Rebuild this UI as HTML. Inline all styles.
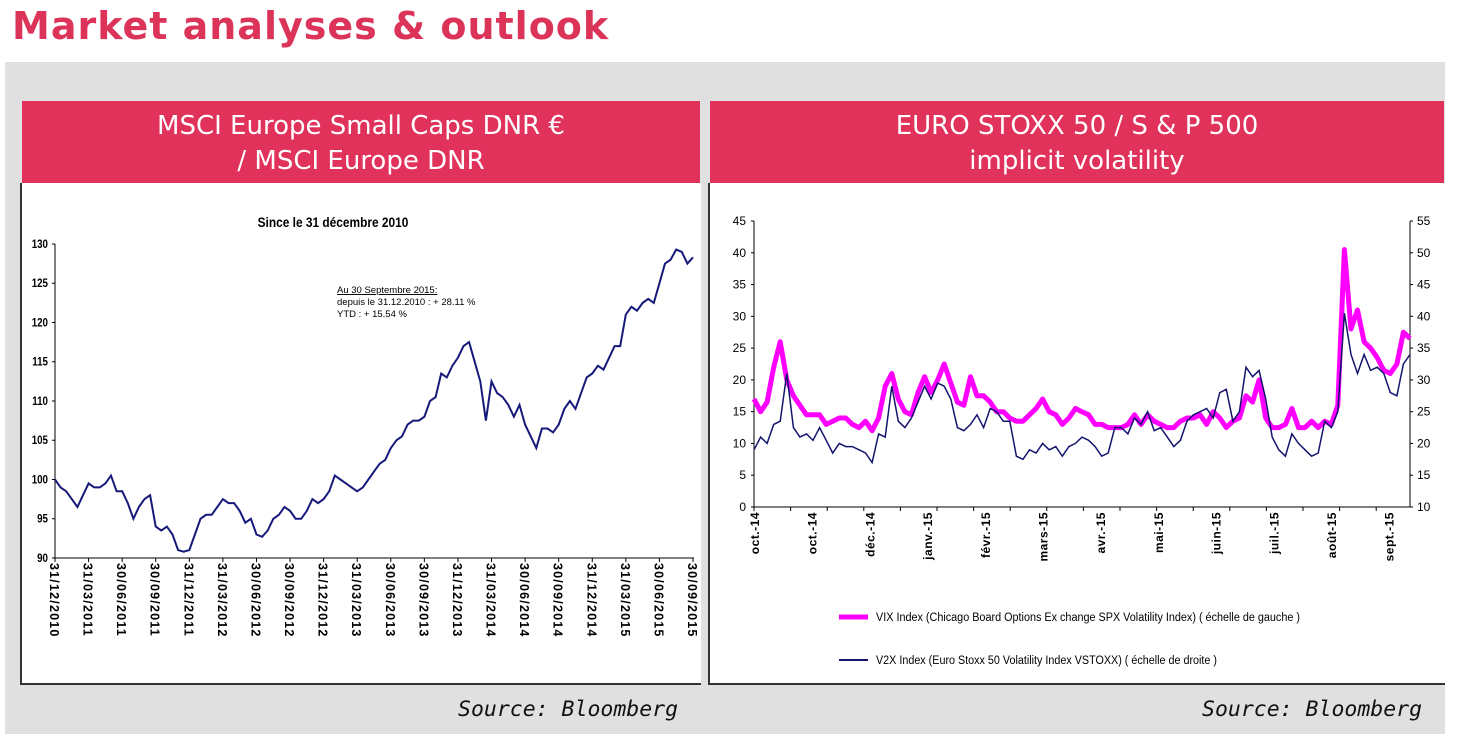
<!DOCTYPE html>
<html><head><meta charset="utf-8">
<style>
body{margin:0;width:1457px;height:746px;background:#fff;overflow:hidden;font-family:"Liberation Sans",sans-serif;position:relative}
.abs{position:absolute}
#title{left:12px;top:4px;font-size:38px;font-weight:bold;color:#dc3358;letter-spacing:1px;font-family:"DejaVu Sans","Liberation Sans",sans-serif}
#panel{left:5px;top:62px;width:1440px;height:672px;background:#e0e0e0}
.hdr{top:101px;height:82px;background:#e0325a;color:#fff;font-family:"DejaVu Sans","Liberation Sans",sans-serif;font-size:26px;text-align:center;line-height:35px;box-sizing:border-box;padding-top:8px}
.box{top:183px;height:502px;background:#fff;border-left:2px solid #333;border-bottom:2px solid #333;box-sizing:border-box}
.src{top:697px;font-family:"DejaVu Sans Mono","Liberation Mono",monospace;font-style:italic;font-size:21.5px;color:#111}
</style></head><body>
<div id="title" class="abs">Market analyses &amp; outlook</div>
<div id="panel" class="abs"></div>
<div class="abs hdr" style="left:22px;width:678px">MSCI Europe Small Caps DNR €<br>/ MSCI Europe DNR</div>
<div class="abs hdr" style="left:710px;width:734px">EURO STOXX 50 / S &amp; P 500<br>implicit volatility</div>
<div class="abs box" style="left:20px;width:681px"></div>
<div class="abs box" style="left:708px;width:737px"></div>
<div class="abs src" style="left:458px">Source: Bloomberg</div>
<div class="abs src" style="left:1202px">Source: Bloomberg</div>
<svg class="abs" style="left:0;top:0" width="1457" height="746" id="svg"></svg>
<script>
// ---- Left chart data ----
const msciMonths = Array.from({length:115},(_, i)=>i*0.5);
const msciValues = [100,99,98.5,97.5,96.5,98,99.5,99,99,99.5,100.5,98.5,98.5,97,95,96.5,97.5,98,94,93.5,94,93,91,90.8,91,93,95,95.5,95.5,96.5,97.5,97,97,96,94.5,95,93,92.7,93.5,95,95.5,96.5,96,95,95,96,97.5,97,97.5,98.5,100.5,100,99.5,99,98.5,99,100,101,102,102.5,104,105,105.5,107,107.5,107.5,108,110,110.5,113.5,113,114.5,115.5,117,117.5,115,112.5,107.5,112.5,111,110.5,109.5,108,109.5,107,105.5,104,106.5,106.5,106,107,109,110,109,111,113,113.5,114.5,114,115.5,117,117,121,122,121.5,122.5,123,122.5,125,127.5,128,129.3,129,127.5,128.3];
const msciYTicks = [90,95,100,105,110,115,120,125,130];
const msciXLabels = ["31/12/2010","31/03/2011","30/06/2011","30/09/2011","31/12/2011","31/03/2012","30/06/2012","30/09/2012","31/12/2012","31/03/2013","30/06/2013","30/09/2013","31/12/2013","31/03/2014","30/06/2014","30/09/2014","31/12/2014","31/03/2015","30/06/2015","30/09/2015"];
// ---- Right chart data ----
const vixValues = [17,15,16.5,22,26,20,17.5,16,14.5,14.5,14.5,13,13.5,14,14,13,12.5,13.5,12,14,19,21,17,15,14.5,18,20.5,18,20,22.5,19.5,16.5,16,20.5,17.5,17.5,16.5,15,15,14,13.5,13.5,14.5,15.5,17,15,14.5,13,14,15.5,15,14.5,13,13,12.5,12.5,12.5,13,14.5,13,14.5,13.5,13,12.5,12.5,13.5,14,14,14.5,13,15,14,12.5,13.5,14,17.5,16.5,20,14,12.5,12.5,13,15.5,12.5,12.5,13.5,12.5,13.5,13,16,40.5,28,31,26,25,23.5,21.5,21,22.5,27.5,26.5];
const v2xValues = [19,21,20,23,23.5,31,22.5,21,21.5,20.5,22.5,20.5,18.5,20,19.5,19.5,19,18.5,17,21.5,21,29,23.5,22.5,24,26.5,29,27,29.5,29,27,22.5,22,23,24.5,22.5,25.5,25,23.5,23.5,18,17.5,19,18.5,20,19,19.5,18,19.5,20,21,20.5,19.5,18,18.5,22.5,22.5,21.5,24,23,25,22,22.5,21,19.5,20.5,23.5,24.5,25,25.5,24,28,28.5,23.5,25,32,30.5,31.5,27,21,19,18,21.5,20,19,18,18.5,23.5,22.5,25,40.5,34,31,34,31.5,32,31,28,27.5,32.5,34];
const volLeftTicks = [0,5,10,15,20,25,30,35,40,45];
const volRightTicks = [10,15,20,25,30,35,40,45,50,55];
const volXLabels = ["oct.-14","oct.-14","déc.-14","janv.-15","févr.-15","mars-15","avr.-15","mai-15","juin-15","juil.-15","août-15","sept.-15"];

const NS="http://www.w3.org/2000/svg";
const svg=document.getElementById('svg');
function mk(tag,attrs,parent){const e=document.createElementNS(NS,tag);for(const k in attrs)e.setAttribute(k,attrs[k]);(parent||svg).appendChild(e);return e;}
function txt(s,attrs){const e=mk('text',attrs);e.textContent=s;return e;}

// Left chart axes
const lx=m=>55+m*(693-55)/57;
const ly=v=>558-(v-90)*(558-244)/40;
let t=txt("Since le 31 décembre 2010",{x:333,y:227,'font-size':14,'font-weight':'bold','text-anchor':'middle','font-family':'Liberation Sans, sans-serif',transform:'translate(333 227) scale(0.85 1) translate(-333 -227)'});

mk('line',{x1:55,y1:244,x2:55,y2:558,stroke:'#000','stroke-width':1});
mk('line',{x1:55,y1:558,x2:694,y2:558,stroke:'#000','stroke-width':1});
msciYTicks.forEach(v=>{
  mk('line',{x1:52,y1:ly(v),x2:55,y2:ly(v),stroke:'#000'});
  const e=txt(String(v),{x:48,y:ly(v)+4,'font-size':11.5,'font-weight':'bold','text-anchor':'end',transform:`translate(48 0) scale(0.85 1) translate(-48 0)`});
  
});
msciXLabels.forEach((s,i)=>{
  const x=lx(i*3);
  mk('line',{x1:x,y1:558,x2:x,y2:562,stroke:'#000'});
  const e=txt(s,{x:x-5,y:563,'font-size':12.5,'font-weight':'bold','letter-spacing':'1.2',transform:`rotate(90 ${x-5} 563)`});
  
});
let p=msciMonths.map((m,i)=>(i?'L':'M')+lx(m).toFixed(1)+' '+ly(msciValues[i]).toFixed(1)).join(' ');
let line=mk('path',{d:p,fill:'none',stroke:'#16197a','stroke-width':2});

const ann=[["Au 30 Septembre 2015:",293],["depuis le 31.12.2010 : +  28.11 %",305],["YTD : +  15.54 %",317]];
ann.forEach((a,i)=>{const e=txt(a[0],{x:337,y:a[1],'font-size':9.5,'text-decoration':i==0?'underline':'none'});
});

// Right chart axes
const rx=i=>754+i*(1410-754)/(vixValues.length-1);
const ryL=v=>507-v*(507-221)/45;
const ryR=v=>507-(v-10)*(507-221)/45;
mk('line',{x1:754,y1:221,x2:754,y2:507,stroke:'#000'});
mk('line',{x1:1410,y1:221,x2:1410,y2:507,stroke:'#000'});
mk('line',{x1:754,y1:507,x2:1410,y2:507,stroke:'#000'});
volLeftTicks.forEach(v=>{mk('line',{x1:751,y1:ryL(v),x2:754,y2:ryL(v),stroke:'#000'});
 const e=txt(String(v),{x:746,y:ryL(v)+4,'font-size':12,'text-anchor':'end'});
 });
volRightTicks.forEach(v=>{mk('line',{x1:1410,y1:ryR(v),x2:1413,y2:ryR(v),stroke:'#000'});
 const e=txt(String(v),{x:1417,y:ryR(v)+4,'font-size':12});
 });
for(let k=0;k<=18;k++){const x=754+k*36.6;if(x>1411)break;mk('line',{x1:x,y1:507,x2:x,y2:511,stroke:'#000'});}
volXLabels.forEach((s,i)=>{
  const x=754+i*57.7+5;
  const e=txt(s,{x:x,y:512,'font-size':12,'font-weight':'bold','letter-spacing':'0.5','text-anchor':'end',transform:`rotate(-90 ${x} 512)`});
  
});
p=vixValues.map((v,i)=>(i?'L':'M')+rx(i).toFixed(1)+' '+ryL(v).toFixed(1)).join(' ');
line=mk('path',{d:p,fill:'none',stroke:'#ff00ff','stroke-width':5,'stroke-linejoin':'round'});

p=v2xValues.map((v,i)=>(i?'L':'M')+rx(i).toFixed(1)+' '+ryR(v).toFixed(1)).join(' ');
line=mk('path',{d:p,fill:'none',stroke:'#14146e','stroke-width':1.5});

// legend
let l=mk('line',{x1:839,y1:617,x2:868,y2:617,stroke:'#ff00ff','stroke-width':5});

let lt=txt("VIX Index (Chicago Board Options Ex change SPX Volatility Index) ( échelle de gauche )",{x:876,y:621,'font-size':11.5,textLength:424,lengthAdjust:'spacingAndGlyphs'});

l=mk('line',{x1:839,y1:660,x2:868,y2:660,stroke:'#14146e','stroke-width':2});

lt=txt("V2X Index (Euro Stoxx 50 Volatility Index VSTOXX) ( échelle de droite )",{x:876,y:664,'font-size':11.5,textLength:341,lengthAdjust:'spacingAndGlyphs'});

</script>
</body></html>
